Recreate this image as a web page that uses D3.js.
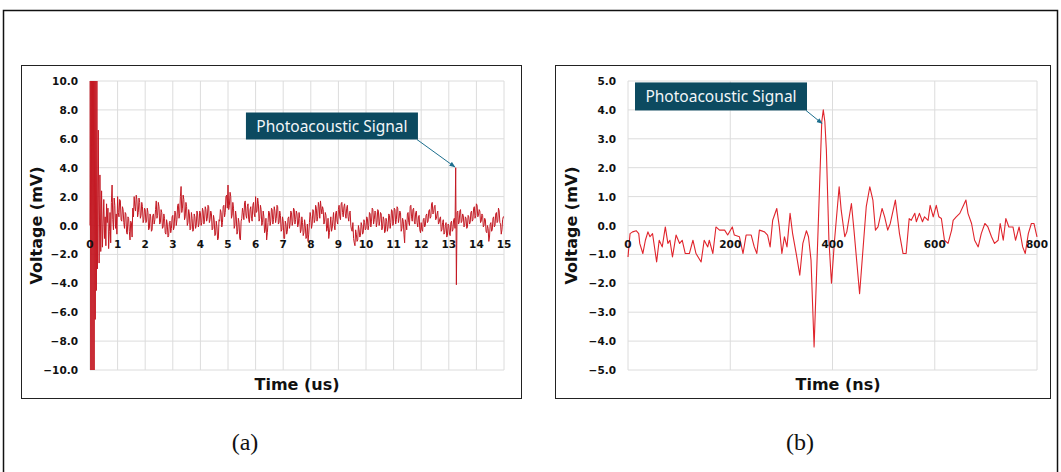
<!DOCTYPE html>
<html>
<head>
<meta charset="utf-8">
<script src="https://cdn.jsdelivr.net/npm/d3@7"></script>
<style>
  body { margin: 0; background: #fff; }
  text { fill: #111; }
</style>
</head>
<body>
<div id="chart"></div>
<script>
// ---- datos panel (a): burst inicial + señal muestreada cada 0.025 us desde 0.5 us
var burstTime = [0, 0.01, 0.03, 0.05, 0.07, 0.09, 0.11, 0.13, 0.15, 0.17, 0.19, 0.21, 0.23, 0.25, 0.27, 0.30, 0.33, 0.36, 0.39, 0.42, 0.45];
var burstVolt = [0, 10, -10, 10, -10, 10, -10, 10, -10, 10, -6.5, 10, -4.5, 10, -3.0, 6.6, -2.6, 3.5, -1.8, 2.4, -1.5];

var startA = 0.5, stepA = 0.025;
var voltA = [
  1.8, -0.9, 0.6, -1.4, 1.5, 0.2, 1.2, -1.6, -0.4, 0.9, -1.2, 1.6, 2.8, 0.4, -0.3, 1.9, 1.4, -0.2, 0.8, -0.6,
  // 1 us
  2.0, 0.9, 0.6, 1.8, 1.7, 0.4, 0.3, 1.3, 1.1, 0.2, -0.2, 0.9, 0.8, -0.5, -0.6, 0.6, 0.5, -0.4, -1.0, 0.3,
  0.2, -0.8, 1.2, 0.6, 2.0, 1.3, 1.0, 2.1, 1.8, 0.6, 0.9, 1.9, 1.6, 0.5, 0.7, 1.6, 1.3, 0.2, 0.4, 1.2,
  // 2 us
  1.1, 0.2, 0.3, 1.2, 0.9, -0.3, -0.2, 0.8, 0.6, -0.4, -0.3, 0.7, 0.8, 0.1, 0.4, 1.1, 1.7, 0.5, 0.7, 1.6,
  1.3, 0.1, 0.2, 1.1, 0.9, -0.2, -0.1, 0.8, 0.5, -0.5, -0.6, 0.4, 0.1, -0.8, -0.7, 0.2, 0.3, -0.5, -0.2, 0.6,
  // 3 us
  0.7, -0.3, -0.1, 1.0, 0.9, 0.0, 0.4, 1.4, 1.5, 0.5, 0.8, 2.0, 2.7, 0.9, 1.2, 2.1, 1.8, 0.4, 0.6, 1.6,
  1.3, 0.0, 0.2, 1.1, 0.8, -0.3, -0.2, 0.9, 0.5, -0.4, -0.3, 0.8, 0.6, -0.2, 0.0, 1.0, 0.8, -0.1, 0.1, 1.0,
  // 4 us
  0.9, 0.0, 0.2, 1.2, 1.0, 0.1, 0.3, 1.3, 1.1, 0.3, 0.5, 1.4, 1.3, 0.2, 0.4, 1.0, 0.8, -0.3, -0.2, 0.7,
  0.4, -0.7, -0.6, 0.3, -0.1, -1.0, -0.9, 0.4, 0.3, 1.1, 0.9, -0.1, 0.2, 1.3, 1.4, 0.6, 0.9, 2.0, 2.1, 1.2,
  // 5 us
  2.8, 1.1, 1.4, 2.3, 2.0, 0.5, 0.7, 1.6, 1.2, -0.2, 0.0, 1.0, 0.6, -0.6, -0.4, 0.5, 0.2, -0.9, -1.0, 0.3,
  0.5, 1.2, 0.9, 0.4, 1.6, 1.7, 0.7, 0.5, 1.3, 1.5, 0.4, 0.2, 1.1, 1.3, 0.5, 0.3, 1.4, 1.6, 0.8, 0.6,
  // 6 us
  2.0, 0.9, 1.0, 1.9, 1.5, 0.3, 0.5, 1.4, 1.1, 0.0, 0.2, 1.0, 0.6, -0.5, -0.3, 0.5, -1.0, -0.5, 0.2, 1.0,
  0.9, 0.0, 0.3, 1.2, 1.1, 0.1, 0.4, 1.3, 1.0, 0.2, 0.5, 1.4, 1.3, 0.1, 0.2, 1.0, 0.7, -0.4, -0.3, 0.6,
  // 7 us
  0.3, -0.9, -0.9, 0.3, 0.1, -0.6, -0.4, 0.5, 0.6, -0.2, 0.1, 1.0, 0.9, 0.0, 0.3, 1.2, 1.1, 0.1, 0.4, 1.0,
  0.8, -0.1, 0.1, 0.9, 0.5, -0.5, -0.3, 0.6, 0.2, -0.7, -0.5, 0.4, 0.0, -0.9, -0.8, 0.1, -1.1, -0.6, 0.2, 0.9,
  // 8 us
  0.6, -0.2, 0.1, 1.1, 1.0, 0.2, 0.4, 1.4, 1.2, 0.3, 0.6, 1.6, 1.3, 0.5, 1.7, 1.2, 0.8, 1.3, 1.1, 0.1,
  0.3, 0.9, 0.7, -0.4, -0.2, 0.5, -0.9, -0.5, 0.0, 0.6, -0.4, -0.2, 0.4, 0.9, 0.0, -0.3, 0.8, 1.0, 0.3, 0.1,
  // 9 us
  1.1, 1.4, 0.6, 0.4, 1.5, 1.6, 0.9, 0.6, 1.3, 1.5, 0.8, 0.5, 1.2, 1.4, 0.6, 0.3, 0.9, 1.0, 0.0, -0.3,
  -0.4, 0.2, -0.9, -1.2, -1.4, -0.3, -0.6, -1.1, -1.0, 0.0, -0.3, -0.8, -0.7, 0.2, 0.0, -0.6, -0.5, 0.4, 0.2, -0.3,
  // 10 us
  -0.2, 0.6, 0.5, -0.3, 0.0, 0.9, 0.8, -0.1, 0.3, 1.2, 1.1, 0.1, 0.4, 1.0, 0.9, -0.1, 0.2, 1.1, 1.0, 0.0,
  0.3, 0.9, 0.8, -0.3, -0.1, 0.6, 0.4, -0.5, -0.4, 0.5, 0.3, -0.4, -0.1, 0.8, 0.7, -0.2, 0.2, 1.1, 1.0, 0.0,
  // 11 us
  0.3, 1.2, 1.1, 0.1, 0.4, 1.3, 1.2, 0.2, 0.5, 1.0, 0.9, -0.4, -0.2, 0.5, 0.3, -0.6, -1.2, 0.4, 0.2, -0.3,
  0.8, 0.9, 0.2, 0.0, 1.3, 1.4, 0.6, 0.3, 1.1, 1.2, 0.3, 0.1, 0.9, 1.0, 0.2, -0.1, 0.6, 0.7, -0.3, -0.5,
  // 12 us
  0.2, -0.3, -0.4, 0.4, 0.5, -0.1, 0.0, 0.7, 0.8, 0.2, 0.3, 1.0, 1.1, 0.5, 0.6, 1.5, 1.6, 0.8, 0.9, 1.3,
  1.4, 0.4, 0.5, 0.8, 1.0, 0.1, 0.2, 0.5, 0.6, -0.4, -0.3, 0.2, 0.4, -0.6, -0.5, 0.0, 0.2, -0.8, -0.7, 0.1,
  // 13 us (pico en 13.25)
  0.0, -0.6, -0.7, 0.2, 0.3, -0.4, -0.3, 0.4, 0.5, -0.2, 4.0, -4.1, 0.9, 1.0, 0.1, 0.2, 1.0, 1.1, 0.2, 0.3,
  0.8, 0.7, -0.1, 0.0, 0.6, 0.5, -0.2, -0.1, 0.7, 0.6, 0.1, 0.2, 0.9, 1.0, 0.3, 0.4, 1.2, 1.3, 0.5, 0.7,
  // 14 us
  1.5, 1.4, 0.6, 0.7, 1.1, 1.0, 0.2, 0.3, 0.8, 0.7, -0.1, 0.0, 0.5, 0.4, -0.4, -0.5, 0.0, -0.2, -1.1, -0.8,
  0.1, 0.2, -0.4, -0.3, 0.5, 0.6, -0.1, 0.0, 0.8, 0.9, 0.2, 0.3, 1.2, 1.0, 0.2, 0.1, -0.6, -0.3, 0.4, 0.6,
  0.6
];
var xTicksA = [0, 1, 2, 3, 4, 5, 6, 7, 8, 9, 10, 11, 12, 13, 14, 15];
var yTicksA = [-10, -8, -6, -4, -2, 0, 2, 4, 6, 8, 10];

// ---- datos panel (b)
var timeB = [0, 4, 9, 16, 21, 23, 29, 34, 39, 43, 48, 56, 61, 67, 73, 78, 82, 87, 94, 101,
  106, 112, 120, 127, 133, 143, 149, 156, 159, 166, 172, 179, 189, 195, 204, 208, 218, 225, 231, 241,
  247, 252, 257, 267, 273, 278, 283, 291, 296, 301, 306, 311, 317, 322, 329, 336, 342, 349, 353, 358,
  364, 379, 382, 385, 388, 393, 398, 404, 413, 417, 424, 428, 437, 442, 453, 461, 466, 473, 479, 484,
  489, 497, 502, 508, 513, 523, 531, 538, 544, 550, 554, 561, 564, 570, 576, 580, 587, 591, 597, 603,
  608, 613, 619, 626, 633, 636, 642, 649, 655, 661, 665, 672, 678, 685, 691, 698, 704, 711, 717, 724,
  728, 734, 739, 745, 753, 758, 765, 772, 777, 783, 789, 794, 800];
var voltB = [-1.09, -0.28, -0.22, -0.18, -0.28, -0.62, -0.97, -0.51, -0.22, -0.39, -0.28, -1.26, -0.51, -0.74, -0.05, -0.62, -0.51, -1.09, -0.33, -0.62,
  -0.51, -0.97, -0.97, -0.51, -0.97, -1.26, -0.51, -0.74, -0.51, -0.97, -0.05, -0.16, -0.16, -0.33, -0.05, -0.33, -0.39, -0.97, -0.33, -0.33,
  -0.74, -0.97, -0.16, -0.22, -0.33, -0.74, 0.18, 0.59, -0.05, -0.97, -0.39, -0.74, 0.42, -0.28, -0.97, -1.72, -0.62, -0.18, -0.39, -1.20,
  -4.20, 3.60, 4.00, 3.60, 2.61, -0.51, -2.00, -0.51, 1.34, 0.53, -0.39, -0.22, 0.76, -0.16, -2.36, -0.51, 0.65, 1.34, 0.88, -0.16,
  -0.05, 0.59, 0.30, -0.16, 0.07, 0.88, -0.28, -0.97, -0.97, 0.24, 0.18, 0.42, 0.13, 0.42, 0.13, 0.30, 0.18, 0.70, 0.30, 0.70,
  0.30, 0.24, -0.51, -0.62, -0.16, 0.18, 0.30, 0.42, 0.65, 0.88, 0.42, 0.07, -0.51, -0.74, -0.28, 0.07, -0.05, -0.39, -0.62, -0.51,
  0.07, -0.51, 0.24, -0.05, -0.05, -0.51, -0.05, -0.74, -0.97, -0.28, 0.07, 0.07, -0.39];
var xTicksB = [0, 200, 400, 600, 800];
var yTicksB = [-5, -4, -3, -2, -1, 0, 1, 2, 3, 4, 5];

var callout = "Photoacoustic Signal";

var width = 1061, height = 472;

var svg = d3.select("#chart").append("svg")
    .attr("width", width)
    .attr("height", height);

var defs = svg.append("defs");
defs.append("marker")
    .attr("id", "flecha")
    .attr("viewBox", "0 0 10 10")
    .attr("refX", 9).attr("refY", 5)
    .attr("markerWidth", 6).attr("markerHeight", 6)
    .attr("orient", "auto")
  .append("path")
    .attr("d", "M0,1 L10,5 L0,9 Z")
    .attr("fill", "#1d6f8e");

// marco exterior
svg.append("rect")
    .attr("x", 3.5).attr("y", 10.5)
    .attr("width", 1054).attr("height", 480)
    .attr("fill", "none").attr("stroke", "#111").attr("stroke-width", 1.5);

function panel(o) {
  var g = svg.append("g");

  g.append("rect")
      .attr("x", o.box[0] + 0.5).attr("y", o.box[1] + 0.5)
      .attr("width", o.box[2]).attr("height", o.box[3])
      .attr("fill", "#fff").attr("stroke", "#222").attr("stroke-width", 1);

  var x = d3.scaleLinear().domain(o.xDomain).range([o.left, o.right]);
  var y = d3.scaleLinear().domain(o.yDomain).range([o.bottom, o.top]);

  // grilla
  g.selectAll(".vg").data(o.xTicks).enter().append("line")
      .attr("x1", d => x(d)).attr("x2", d => x(d))
      .attr("y1", o.top).attr("y2", o.bottom)
      .attr("stroke", "#dcdcdc").attr("stroke-width", 1);
  g.selectAll(".hg").data(o.yTicks).enter().append("line")
      .attr("x1", o.left).attr("x2", o.right)
      .attr("y1", d => y(d)).attr("y2", d => y(d))
      .attr("stroke", "#dcdcdc").attr("stroke-width", 1);

  // etiquetas eje y
  g.selectAll(".yl").data(o.yTicks).enter().append("text")
      .attr("x", o.left - 12).attr("y", d => y(d) + 4)
      .attr("text-anchor", "end")
      .style("font", "bold 10.5px 'DejaVu Sans'")
      .text(d => d3.format(".1f")(d));

  // curva
  var line = d3.line().x(d => x(d[0])).y(d => y(d[1]));
  g.append("path")
      .datum(o.points)
      .attr("d", line)
      .attr("fill", "none")
      .attr("stroke", o.color)
      .attr("stroke-width", o.lw)
      .attr("stroke-linejoin", "round");

  // etiquetas eje x sobre la linea del cero
  g.selectAll(".xl").data(o.xTicks).enter().append("text")
      .attr("x", d => x(d)).attr("y", y(0) + 22)
      .attr("text-anchor", "middle")
      .style("font", "bold 10.5px 'DejaVu Sans'")
      .text(d => d);

  // titulos
  g.append("text")
      .attr("transform", "translate(" + o.yTitleX + "," + ((o.top + o.bottom) / 2) + ") rotate(-90)")
      .attr("text-anchor", "middle")
      .style("font", "bold 16px 'DejaVu Sans'")
      .text("Voltage (mV)");
  g.append("text")
      .attr("x", o.xTitleX).attr("y", o.box[1] + o.box[3] - 8)
      .attr("text-anchor", "middle")
      .style("font", "bold 16px 'DejaVu Sans'")
      .text(o.xTitle);

  // anotacion
  var bx = x(o.boxAt[0]), by = y(o.boxAt[1]);
  g.append("line")
      .attr("x1", bx + 171).attr("y1", by + o.boxH)
      .attr("x2", x(o.tip[0])).attr("y2", y(o.tip[1]))
      .attr("stroke", "#1d6f8e").attr("stroke-width", 1)
      .attr("marker-end", "url(#flecha)");
  g.append("rect")
      .attr("x", bx).attr("y", by)
      .attr("width", 172).attr("height", o.boxH)
      .attr("fill", "#0c4a60");
  g.append("text")
      .attr("x", bx + 86).attr("y", by + o.boxH / 2 + 5.5)
      .attr("text-anchor", "middle")
      .style("font", "15.5px 'Noto Sans'")
      .style("fill", "#f2f6f8")
      .text(callout);
}

var pointsA = burstTime.map((t, i) => [t, burstVolt[i]])
    .concat(voltA.map((v, i) => [startA + i * stepA, v]));
var pointsB = timeB.map((t, i) => [t, voltB[i]]);

panel({
  box: [21, 65, 500, 333],
  left: 90, right: 504, top: 81, bottom: 370,
  xDomain: [0, 15], yDomain: [-10, 10],
  xTicks: xTicksA, yTicks: yTicksA,
  points: pointsA, color: "#c41a24", lw: 1,
  yTitleX: 42, xTitleX: 297, xTitle: "Time (us)",
  boxAt: [5.65, 7.82], boxH: 27, tip: [13.22, 4.05]
});

panel({
  box: [555, 65, 495, 333],
  left: 628, right: 1037, top: 81, bottom: 370,
  xDomain: [0, 800], yDomain: [-5, 5],
  xTicks: xTicksB, yTicks: yTicksB,
  points: pointsB, color: "#e0242c", lw: 1.1,
  yTitleX: 577, xTitleX: 838, xTitle: "Time (ns)",
  boxAt: [13.7, 4.95], boxH: 28, tip: [379.5, 3.53]
});

// rotulos (a) (b)
svg.append("text").attr("x", 245).attr("y", 450).attr("text-anchor", "middle")
    .style("font", "24px 'Liberation Serif'").text("(a)");
svg.append("text").attr("x", 800).attr("y", 450).attr("text-anchor", "middle")
    .style("font", "24px 'Liberation Serif'").text("(b)");
</script>
</body>
</html>
